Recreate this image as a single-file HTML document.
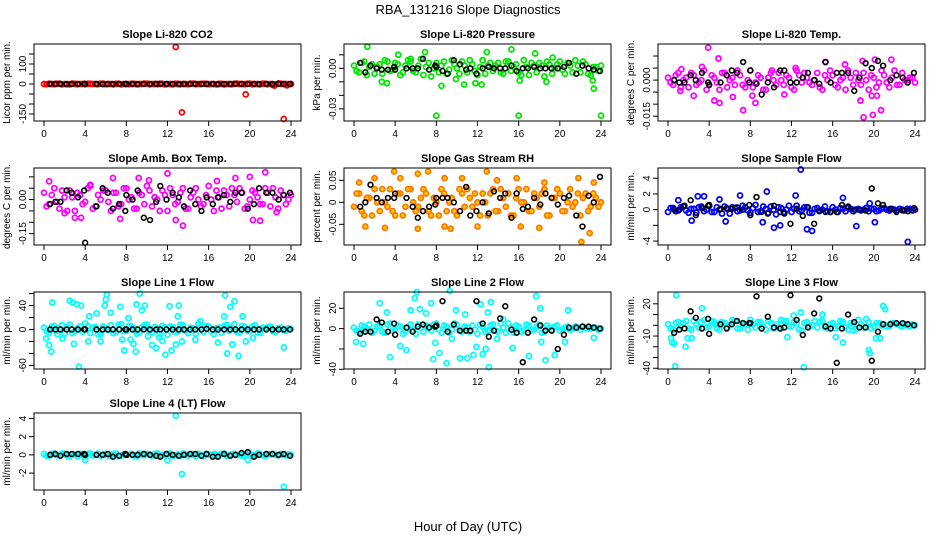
<!DOCTYPE html>
<html><head><meta charset="utf-8"><style>
html,body{margin:0;padding:0;background:#fff;}
svg{display:block;font-family:"Liberation Sans",sans-serif;}
</style></head><body>
<svg id="chart" width="936" height="540" viewBox="0 0 936 540">
<text x="468" y="14" text-anchor="middle" font-size="13">RBA_131216  Slope Diagnostics</text>
<text x="468" y="531" text-anchor="middle" font-size="13">Hour of Day (UTC)</text>
</svg>
<script>
const xTicks=[0,4,8,12,16,20,24];
const bandHours=[0,0.5,1,1.5,2,2.5,3,3.5,4,4.5,5,5.5,6,6.5,7,7.5,8,8.5,9,9.5,10,10.5,11,11.5,12,12.5,13,13.5,14,14.5,15,15.5,16,16.5,17,17.5,18,18.5,19,19.5,20,20.5,21,21.5,22,22.5,23,23.5,24];
const bandHoursB=[0.25,0.75,1.25,1.75,2.25,2.75,3.25,3.75,4.25,4.75,5.25,5.75,6.25,6.75,7.25,7.75,8.25,8.75,9.25,9.75,10.25,10.75,11.25,11.75,12.25,12.75,13.25,13.75,14.25,14.75,15.25,15.75,16.25,16.75,17.25,17.75,18.25,18.75,19.25,19.75,20.25,20.75,21.25,21.75,22.25,22.75,23.25,23.75];
const blkHours=[0.6,1.1,1.6,2.2,2.7,3.3,3.9,4.0,5.1,5.7,6.2,6.7,7.3,7.9,8.0,8.6,9.1,9.7,10.3,10.9,11.3,11.9,12.5,13.1,13.6,14.2,14.7,15.3,15.8,16.4,16.9,17.5,18.1,18.6,19.2,19.8,20.4,20.9,21.6,22.2,22.8,23.3,23.9];

const co2Band=[0,1,-1,2,0,-2,1,0,-1,1,0,2,-1,0,1,-2,0,1,-1,0,2,0,-1,1,0,-2,1,0,-1,2,0,1,-1,0,1,-2,0,1,0,-1,2,0,-1,1,0,-2,1,0,0];
const co2BandB=[-1,0,1,-2,0,2,-1,0,1,0,-1,2,0,-2,1,0,-1,1,0,2,-1,0,1,-2,0,1,-1,0,2,-1,0,1,0,-2,1,0,-1,2,0,1,-1,0,2,-1,-5,1,0,-1];
const co2Out=[[12.8,185],[13.4,-142],[19.6,-52],[23.3,-175],[22.4,-8],[22.8,3],[23.6,-7]];
const co2Blk=[0,1,0,-1,0,0,1,0,0,-1,0,0,1,0,0,0,-1,0,0,1,0,0,0,-1,0,0,1,0,0,0,-1,0,0,1,0,0,0,-1,0,0,1,0,0];
const co2Ticks=[-150,-100,-50,0,50,100,150];
const co2Labels=["-150","","","0","","100",""];

const presBand=[0.002,-0.003,0.005,0.001,-0.004,0.003,0.006,-0.002,0.004,-0.005,0.002,0.005,-0.003,0.007,0.001,-0.006,0.004,0.002,-0.004,0.006,0.000,0.005,-0.003,0.003,-0.005,0.006,0.002,-0.002,0.004,-0.004,0.005,0.001,-0.003,0.006,-0.005,0.002,0.004,-0.006,0.003,0.000,0.005,-0.004,0.002,0.006,-0.003,0.003,-0.005,0.001,0.002];
const presBandB=[-0.002,0.004,-0.005,0.003,0.001,-0.004,0.005,-0.001,0.003,-0.003,0.006,-0.002,0.002,-0.005,0.004,0.000,-0.003,0.005,-0.001,0.003,-0.004,0.002,0.006,-0.002,0.001,-0.004,0.004,0.002,-0.003,0.005,-0.002,0.003,-0.005,0.001,0.004,-0.003,0.002,0.005,-0.004,0.003,-0.001,0.004,-0.003,0.002,0.005,-0.004,0.001,-0.002];
const presOut=[[1.3,0.016],[8.0,-0.035],[16.0,-0.035],[24,-0.035],[8.5,-0.013],[23.3,-0.015],[15.3,0.014],[12.9,0.012],[6.9,0.012],[3.2,-0.011],[2.7,-0.010],[10.7,-0.012],[11.8,-0.011],[18.7,-0.010],[23.2,-0.009],[9.9,-0.008],[12.4,-0.012],[16.1,-0.009],[4.3,0.010],[5.5,0.007],[17.6,0.011],[19.3,0.008]];
const presBlk=[0.004,-0.003,0.002,0.000,-0.001,-0.001,0.001,-0.001,0.000,0.000,0.000,0.007,-0.001,0.002,0.001,-0.002,-0.004,0.006,0.003,-0.001,0.000,-0.004,0.000,0.001,0.000,0.000,0.000,0.002,-0.002,0.000,0.000,0.001,0.000,0.000,0.000,0.000,0.001,0.004,-0.004,0.002,0.000,-0.001,-0.002];
const presTicks=[-0.03,-0.02,-0.01,0,0.01];
const presLabels=["-0.03","","","0.00",""];

const tempBand=[0.001,-0.002,0.003,0.000,-0.003,0.002,-0.001,0.004,-0.002,0.001,-0.004,0.003,0.000,-0.002,0.002,-0.003,0.004,-0.001,0.001,-0.004,0.003,-0.002,0.000,0.002,-0.003,0.004,-0.001,0.001,-0.002,0.003,-0.004,0.000,0.002,-0.003,0.001,0.004,-0.002,0.000,0.003,-0.004,0.001,-0.001,0.002,-0.003,0.004,-0.002,0.000,0.001,-0.001];
const tempBandB=[-0.001,0.002,-0.003,0.001,0.003,-0.002,0.000,-0.004,0.002,-0.001,0.003,-0.003,0.001,0.004,-0.002,0.000,-0.003,0.002,-0.004,0.001,0.000,0.003,-0.002,0.001,-0.004,0.002,0.003,-0.001,0.000,-0.003,0.002,0.004,-0.002,0.000,-0.004,0.001,0.003,-0.002,0.000,0.002,-0.003,0.004,-0.001,0.001,-0.002,0.003,0.000,0.001];
const tempOut=[[3.9,0.0135],[4.9,0.009],[5.0,-0.0095],[7.3,-0.0125],[8.5,-0.0095],[19.0,-0.0155],[19.9,-0.0145],[20.7,-0.0125],[18.7,-0.0085],[18.9,0.008],[21.7,0.0085],[1.3,0.0045],[3.3,0.0055],[2.5,-0.0065],[4.5,-0.0085],[19.8,-0.0065],[20.3,-0.0065],[1.2,-0.0045],[8.2,-0.0065],[11.3,-0.006],[15.3,0.0075],[20.1,0.0085],[17.2,0.0065],[6.3,-0.007],[10.1,0.004],[12.4,0.005]];
const tempBlk=[0.000,-0.001,-0.001,0.002,0.000,0.003,-0.001,-0.002,-0.001,0.002,0.004,0.003,0.0075,-0.001,0.004,-0.0015,-0.006,-0.001,-0.003,0.004,0.004,-0.001,-0.001,0.001,0.003,0.000,-0.0015,0.0075,-0.001,0.003,0.003,0.003,-0.0045,0.001,0.007,0.005,0.008,0.006,0.000,0.002,0.001,-0.001,0.003];
const tempTicks=[-0.015,-0.01,-0.005,0,0.005,0.01];
const tempLabels=["-0.015","","","0.000","",""];

const ambBand=[0.03,-0.02,0.05,-0.04,0.01,0.04,-0.05,0.02,-0.01,0.06,-0.03,0.00,0.04,-0.05,0.03,-0.02,0.05,0.01,-0.04,0.02,0.06,-0.03,0.00,0.04,-0.05,0.02,-0.01,0.05,-0.04,0.03,0.00,-0.02,0.06,-0.05,0.01,0.04,-0.03,0.02,0.05,-0.04,0.00,0.03,-0.02,0.05,-0.03,0.01,0.04,-0.02,0.02];
const ambBandB=[-0.03,0.02,-0.01,0.04,-0.05,0.01,0.03,-0.02,0.05,-0.04,0.02,0.04,-0.01,0.03,-0.03,0.05,0.00,-0.04,0.03,-0.02,0.04,0.01,-0.05,0.02,0.05,-0.02,0.03,-0.04,0.01,0.05,-0.03,0.02,0.00,0.04,-0.04,0.02,0.05,-0.01,0.03,-0.03,0.04,0.01,-0.02,0.03,0.05,-0.04,0.02,0.00];
const ambOut=[[12.0,0.115],[13.5,-0.115],[21.5,0.12],[20.0,0.1],[12.8,-0.09],[7.4,-0.085],[3.6,-0.08],[3.0,-0.08],[22.6,-0.055],[21.0,-0.093],[20.3,-0.09],[9.2,0.095],[6.7,0.095],[10.2,0.085],[0.5,0.08],[4.5,0.065],[18.6,0.095],[16.8,0.082],[2.0,-0.06]];
const ambBlk=[-0.02,-0.01,-0.01,0.04,0.03,0.01,0.04,-0.19,-0.03,0.05,0.03,-0.04,-0.02,-0.05,0.02,0.00,0.04,-0.08,-0.09,-0.01,0.06,0.00,0.03,0.01,-0.03,0.04,-0.02,-0.05,0.01,-0.02,0.01,0.02,-0.01,0.03,0.03,-0.04,-0.02,0.05,0.03,0.03,0.00,0.02,0.03];
const ambTicks=[-0.15,-0.1,-0.05,0,0.05,0.1];
const ambLabels=["-0.15","","","0.00","",""];

const rhBand=[-0.01,0.02,-0.03,0.01,0.03,-0.02,0.00,0.03,-0.03,0.02,-0.01,0.03,-0.02,0.01,0.02,-0.03,0.00,0.03,-0.02,0.01,-0.03,0.02,0.03,-0.01,0.00,0.02,-0.03,0.03,-0.02,0.01,0.02,-0.03,0.03,0.00,-0.02,0.02,-0.01,0.03,-0.03,0.01,0.02,-0.02,0.03,0.00,-0.03,0.02,-0.01,0.01,0.00];
const rhBandB=[0.02,-0.02,0.01,-0.03,0.00,0.03,-0.01,-0.02,0.02,-0.03,0.03,0.00,-0.01,0.03,-0.02,0.01,-0.03,0.02,0.00,-0.02,0.03,-0.01,0.01,0.02,-0.03,0.00,0.02,-0.02,0.03,-0.01,-0.03,0.01,0.00,0.03,-0.02,0.01,0.02,-0.03,0.01,0.03,-0.02,0.00,-0.01,0.02,0.01,-0.02,0.02,-0.01];
const rhOut=[[3.9,0.07],[7.2,0.07],[12.9,0.07],[21.8,0.055],[22.1,-0.09],[22.9,-0.07],[9.4,-0.06],[8.8,-0.055],[6.2,-0.06],[3.0,-0.058],[1.1,-0.055],[16.2,-0.055],[18.0,-0.058],[12.0,-0.055],[2.0,0.055],[6.2,0.065],[4.5,0.055],[10.5,0.055],[15.8,0.055],[13.9,0.05],[8.8,0.055],[0.5,0.045],[18.5,0.045],[23.3,0.045]];
const rhBlk=[-0.01,0.00,0.04,0.01,0.00,0.01,0.01,0.02,0.01,-0.01,-0.035,-0.02,-0.01,-0.005,0.01,0.01,0.01,0.00,-0.02,0.035,-0.03,-0.02,0.00,-0.025,0.025,0.01,0.02,-0.035,0.02,-0.015,-0.01,0.01,-0.005,0.02,0.01,-0.005,0.01,0.015,-0.03,-0.055,0.015,0.00,0.058];
const rhTicks=[-0.05,0,0.05];
const rhLabels=["-0.05","0","0.05"];

const sfBand=[-0.3,0.2,-0.1,0.4,-0.4,0.1,0.3,-0.2,0.5,-0.3,0.0,0.4,-0.5,0.2,-0.1,0.3,-0.4,0.6,-0.2,0.1,0.4,-0.6,0.2,0.0,-0.3,0.5,-0.1,0.3,-0.4,0.2,0.0,-0.2,0.3,-0.3,0.1,0.2,-0.2,0.1,0.0,-0.2,0.1,-0.1,0.2,-0.1,0.0,0.1,-0.1,0.1,0.0];
const sfBandB=[0.2,-0.2,0.3,-0.1,0.1,-0.4,0.4,0.0,-0.3,0.3,-0.5,0.1,0.3,-0.2,0.5,-0.1,0.2,-0.3,0.4,-0.4,0.0,0.3,-0.3,0.5,0.1,-0.2,0.3,-0.4,0.1,-0.1,0.4,-0.3,0.0,0.2,-0.2,0.1,0.0,-0.1,0.2,0.1,-0.2,0.1,0.0,0.1,-0.1,0.0,0.1,-0.1];
const sfOut=[[12.9,5.1],[23.3,-4.1],[13.5,-2.5],[18.3,-2.1],[10.3,-2.3],[10.9,-2.0],[1.0,1.2],[2.9,1.7],[3.5,1.7],[7.0,1.8],[9.6,2.3],[12.4,1.8],[17.0,1.5],[5.6,-1.5],[2.3,-1.4],[9.2,-1.6],[14.0,-2.7],[5.0,1.3],[19.6,0.8],[20.1,-1.6]];
const sfBlk=[0.0,0.0,0.5,1.2,-0.7,0.2,0.5,0.6,0.1,0.2,0.1,0.3,0.0,0.6,-0.7,1.6,-0.3,-0.5,0.5,-0.3,-0.5,-1.8,0.1,-0.8,0.3,-1.8,-0.2,-0.3,-0.3,-0.3,0.6,0.4,0.0,0.0,-0.1,2.7,0.8,0.6,0.1,-0.3,-0.1,-0.2,0.2];
const sfTicks=[-4,-2,0,2,4];
const sfLabels=["-4","","0","2","4"];

const l1Band=[3,-5,6,2,-7,8,-3,5,10,-6,4,-8,2,7,-4,9,-2,5,-7,3,8,-5,1,6,-9,4,-3,7,-6,2,10,-4,5,-8,3,6,-2,9,-5,4,-3,7,-6,2,5,-4,3,-2,1];
const l1BandB=[-3,5,-2,7,4,-6,2,-4,6,3,-8,5,-1,-6,8,-3,6,2,-5,7,-2,4,-7,3,5,-4,8,-2,3,-7,4,6,-3,2,-5,8,3,-4,6,-2,5,-5,3,4,-3,2,-1,2];
const l1Out=[[0.2,-15],[0.5,-26],[0.7,-37],[0.8,45],[2.5,48],[2.8,45],[3.2,42],[3.4,-62],[3.6,40],[2.9,-24],[4.3,-20],[4.4,22],[5.1,27],[5.5,-20],[5.9,40],[6.1,58],[6.0,50],[6.5,28],[7.4,38],[7.6,-17],[7.8,-35],[8.2,19],[8.4,-17],[8.7,-24],[8.9,-37],[9.0,42],[9.3,60],[9.5,32],[9.8,40],[10.1,-11],[10.5,-26],[10.9,-31],[11.2,-13],[11.5,-19],[11.8,-42],[12.2,39],[12.4,-35],[12.8,-25],[13.1,40],[13.0,22],[13.4,-20],[14.7,-17],[15.2,14],[16.9,-22],[17.6,57],[17.8,-40],[18.1,38],[18.5,47],[18.3,-25],[18.9,-44],[19.3,22],[19.6,-20],[20.3,-14],[23.3,-30],[17.5,22],[1.3,-8],[1.8,-15]];
const l1Blk=[0,0,0,0,0,0,0,0,0,0,0,0,0,0,0,0,0,0,0,0,0,0,0,0,0,0,0,0,1,0,0,0,0,0,0,0,0,0,0,0,0,0,0];
const l1Ticks=[-60,-40,-20,0,20,40,60];
const l1Labels=["-60","","","0","","40",""];

const l2Band=[1,-3,2,4,-2,3,-4,5,-1,2,-3,4,-5,1,3,-2,5,-4,2,-1,4,-3,1,3,-5,2,-2,4,-3,1,5,-4,2,-2,3,-1,4,-3,1,2,-2,1,-1,2,-1,1,0,1,0];
const l2BandB=[-2,3,-1,-4,2,-3,4,-2,3,-5,1,-2,4,-3,2,4,-1,3,-4,5,-2,2,-3,-1,4,-3,3,-2,5,-4,1,3,-3,4,-2,2,-4,3,-1,3,-1,2,0,1,2,0,1,-1];
const l2Out=[[0.2,-13],[0.9,-15],[2.5,25],[3.2,16],[3.5,-28],[4.5,-17],[5.1,-21],[5.5,18],[5.9,30],[6.1,36],[6.4,19],[7.0,15],[7.5,25],[7.7,-30],[7.9,-14],[8.3,-24],[9.0,-34],[9.3,37],[9.5,-10],[9.9,18],[10.3,-29],[11.0,-29],[10.8,14],[11.6,-26],[11.9,-18],[12.3,24],[12.5,-25],[13.1,-38],[13.0,16],[13.3,26],[14.5,9],[15.4,-19],[17.7,32],[17.0,-27],[18.2,-13],[18.6,-31],[18.1,20],[19.5,-26],[20.5,-13],[20.8,18],[23.3,-9],[12.8,-20],[13.9,-10]];
const l2Blk=[-5,-3,-3,9,6,-3,5,-6,1,-3,2,4,1,2,3,27,-3,4,-2,-2,-2,27,5,-8,-2,10,22,-1,-4,-33,-4,9,3,-2,-2,-20,-6,1,1,2,2,1,0];
const l2Ticks=[-40,-20,0,20];
const l2Labels=["-40","","0","20"];

const l3Band=[1,-4,3,2,-3,4,-2,5,-1,3,-4,2,0,4,-3,1,5,-2,3,-4,2,1,-3,4,-1,2,-5,3,0,-2,4,-3,2,-1,3,-4,1,5,-2,3,-1,2,1,-1,2,0,1,-1,0];
const l3BandB=[-3,2,-1,4,-4,1,3,-2,4,-3,1,-2,5,-3,2,-4,1,3,-1,4,-3,-2,4,-1,3,-4,2,-1,4,3,-2,1,-3,4,-2,2,-4,1,6,-3,2,0,-1,2,1,-1,0,1];
const l3Out=[[0.3,-12],[0.4,-16],[0.6,-17],[0.8,28],[0.7,-38],[1.7,-20],[1.9,-12],[2.3,-12],[3.3,16],[4.6,1],[11.6,-11],[12.2,9],[12.9,12],[13.2,-39],[15.0,10],[16.3,-11],[17.0,-16],[19.5,-23],[19.6,-26],[20.9,18],[21.1,15],[20.6,-12],[20.2,-12],[18.0,-5],[11.0,5],[5.2,3]];
const l3Blk=[-7,-4,-3,13,7,-3,6,-8,1,-3,1,4,2,2,2,27,-3,8,-2,-3,-2,28,5,-9,-2,11,25,-1,-3,-35,-3,10,3,-2,-2,-33,-6,1,1,2,2,1,0];
const l3Ticks=[-40,-30,-20,-10,0,10,20];
const l3Labels=["-40","","","-10","","","20"];

const l4Band=[0.1,-0.1,0.15,-0.05,0.1,-0.15,0.05,0.1,-0.1,0.15,0,-0.1,0.1,-0.05,0.15,-0.1,0.05,0.1,-0.15,0,0.1,-0.1,0.15,-0.05,0.1,-0.1,0.05,0.15,-0.1,0,0.1,-0.15,0.05,0.1,-0.1,0.15,-0.05,0.1,0,-0.1,0.15,-0.05,0.1,-0.1,0.05,0,0.1,-0.05,0];
const l4BandB=[-0.1,0.1,-0.05,0.15,-0.1,0.05,-0.15,0,0.1,-0.05,0.15,0,-0.1,0.1,-0.15,0.05,0,-0.1,0.15,-0.05,0.05,0.1,-0.1,0,0.15,-0.05,-0.1,0.05,0.1,-0.15,0,0.1,-0.05,0.05,0.1,-0.1,0.05,0,-0.1,0.1,0,0.15,-0.05,0.05,0.1,-0.05,0,0.05];
const l4Out=[[12.8,4.3],[13.4,-2.1],[23.3,-3.5],[4.0,-0.55],[12.0,-0.6],[19.8,-0.55]];
const l4Blk=[0,0.1,-0.1,0.1,0.1,0.1,0.1,0,0,0,0.1,-0.2,-0.1,0.1,0,0,0,0.1,0,-0.1,-0.2,0.1,0,-0.1,0,0.1,0.1,-0.1,0.1,-0.2,-0.2,0.1,-0.1,0,0.2,0.3,-0.2,0,0.1,0.1,0,0.1,-0.1];
const l4Ticks=[-2,0,2,4];
const l4Labels=["-2","0","2","4"];

const panels=[
 {id:'co2',title:'Slope Li-820 CO2',ylab:'Licor ppm per min.',L:34,T:44,dom:[-185,200],col:'#ff0000',fill:'none',band:co2Band,bandB:co2BandB,out:co2Out,blk:co2Blk,ticks:co2Ticks,labels:co2Labels},
 {id:'pressure',title:'Slope Li-820 Pressure',ylab:'kPa per min.',L:344,T:44,dom:[-0.039,0.018],col:'#00e600',fill:'none',band:presBand,bandB:presBandB,out:presOut,blk:presBlk,ticks:presTicks,labels:presLabels},
 {id:'temp',title:'Slope Li-820 Temp.',ylab:'degrees C per min.',L:658,T:44,dom:[-0.017,0.015],col:'#ff00ff',fill:'none',band:tempBand,bandB:tempBandB,out:tempOut,blk:tempBlk,ticks:tempTicks,labels:tempLabels},
 {id:'amb-box-temp',title:'Slope Amb. Box Temp.',ylab:'degrees C per min.',L:34,T:168,dom:[-0.2,0.139],col:'#ff00ff',fill:'none',band:ambBand,bandB:ambBandB,out:ambOut,blk:ambBlk,ticks:ambTicks,labels:ambLabels},
 {id:'gas-rh',title:'Slope Gas Stream RH',ylab:'percent per min.',L:344,T:168,dom:[-0.097,0.078],col:'#ff7700',fill:'#ffd000',band:rhBand,bandB:rhBandB,out:rhOut,blk:rhBlk,ticks:rhTicks,labels:rhLabels},
 {id:'sample-flow',title:'Slope Sample Flow',ylab:'ml/min per min.',L:658,T:168,dom:[-4.5,5.3],col:'#0000ff',fill:'none',band:sfBand,bandB:sfBandB,out:sfOut,blk:sfBlk,ticks:sfTicks,labels:sfLabels},
 {id:'line1',title:'Slope Line 1 Flow',ylab:'ml/min per min.',L:34,T:292,dom:[-66,62.6],col:'#00ffff',fill:'none',band:l1Band,bandB:l1BandB,out:l1Out,blk:l1Blk,ticks:l1Ticks,labels:l1Labels},
 {id:'line2',title:'Slope Line 2 Flow',ylab:'ml/min per min.',L:344,T:292,dom:[-39.7,36],col:'#00ffff',fill:'none',band:l2Band,bandB:l2BandB,out:l2Out,blk:l2Blk,ticks:l2Ticks,labels:l2Labels},
 {id:'line3',title:'Slope Line 3 Flow',ylab:'ml/min per min.',L:658,T:292,dom:[-40.7,31],col:'#00ffff',fill:'none',band:l3Band,bandB:l3BandB,out:l3Out,blk:l3Blk,ticks:l3Ticks,labels:l3Labels},
 {id:'line4',title:'Slope Line 4 (LT) Flow',ylab:'ml/min per min.',L:34,T:413,dom:[-3.86,4.6],col:'#00ffff',fill:'none',band:l4Band,bandB:l4BandB,out:l4Out,blk:l4Blk,ticks:l4Ticks,labels:l4Labels}
];
const W=267,H=77,NS='http://www.w3.org/2000/svg';
const svg=document.getElementById('chart');
function mk(tag,attrs,parent,txt){const e=document.createElementNS(NS,tag);for(const k in attrs)e.setAttribute(k,attrs[k]);if(txt!==undefined)e.textContent=txt;parent.appendChild(e);return e;}
panels.forEach(p=>{
 const g=mk('g',{},svg);
 
 
 const xs=h=>p.L+10+h/24*(W-20);
 const ys=v=>p.T+H-(v-p.dom[0])/(p.dom[1]-p.dom[0])*H;
 const t=mk('text',{x:p.L+W/2,y:p.T-6,'text-anchor':'middle','font-size':11,'font-weight':'bold'},g,p.title);
 
 
 const yl=mk('text',{transform:`translate(${p.L-24},${p.T+H/2}) rotate(-90)`,'text-anchor':'middle','font-size':10},g,p.ylab);
 
 
 const pts=mk('g',{fill:p.fill,stroke:p.col,'stroke-width':1.8},g);
 
 
 const n=Math.min(bandHours.length,p.band.length);
 for(let i=0;i<n;i++){const c=mk('circle',{cx:xs(bandHours[i]),cy:ys(p.band[i]),r:2.5},pts);
  
  }
 const nb=Math.min(bandHoursB.length,p.bandB.length);
 for(let i=0;i<nb;i++){const c=mk('circle',{cx:xs(bandHoursB[i]),cy:ys(p.bandB[i]),r:2.5},pts);
  
  }
 p.out.forEach(o=>{const c=mk('circle',{cx:xs(o[0]),cy:ys(o[1]),r:2.5},pts);
  
  });
 const bk=mk('g',{fill:'none',stroke:'#000','stroke-width':1.6},g);
 
 
 const m=Math.min(blkHours.length,p.blk.length);
 for(let i=0;i<m;i++){const c=mk('circle',{cx:xs(blkHours[i]),cy:ys(p.blk[i]),r:2.4},bk);
  
  }
 const box=mk('rect',{x:p.L,y:p.T,width:W,height:H,fill:'none',stroke:'#000','stroke-width':1},g);
 
 
 const ax=mk('g',{stroke:'#000','stroke-width':1},g);
 
 
 xTicks.forEach(v=>{mk('line',{x1:xs(v),x2:xs(v),y1:p.T+H,y2:p.T+H+5},ax);
  const tl=mk('text',{x:xs(v),y:p.T+H+16,'text-anchor':'middle','font-size':10,stroke:'none'},ax,String(v));
  
  });
 const ay=mk('g',{stroke:'#000','stroke-width':1},g);
 
 
 p.ticks.forEach((v,i)=>{mk('line',{x1:p.L-5,x2:p.L,y1:ys(v),y2:ys(v)},ay);
  if(p.labels[i]){const tl=mk('text',{transform:`translate(${p.L-8},${ys(v)}) rotate(-90)`,'text-anchor':'middle','font-size':10,stroke:'none'},ay,p.labels[i]);
  
  }});
});
</script>
</body></html>
